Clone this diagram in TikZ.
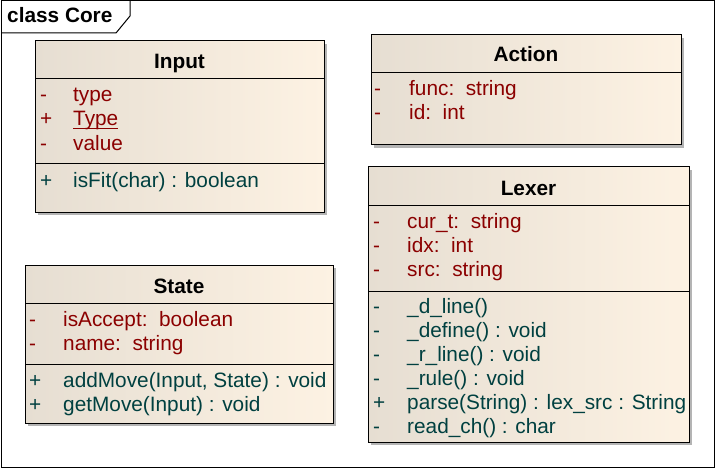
\documentclass[tikz,border=0pt]{standalone}
\usepackage{fontspec}
\setmainfont{Liberation Sans}
\usepackage{xcolor}
\definecolor{clFillL}{HTML}{E6DED2}
\definecolor{clFillR}{HTML}{FDF2E3}
\definecolor{clAttr}{HTML}{8B0000}
\definecolor{clOper}{HTML}{004040}
\definecolor{clShadow}{HTML}{B4B4B4}
\usetikzlibrary{positioning}
\newcommand{\umlfont}{\fontsize{20.8}{24}\selectfont}
\tikzset{
  classbox/.style={draw=black, line width=1pt, left color=clFillL, right color=clFillR},
  classshadow/.style={fill=clShadow, draw=none},
  compline/.style={draw=black, line width=1pt},
  frameline/.style={draw=black, line width=1pt},
  classtitle/.style={anchor=base, font=\umlfont\bfseries, inner sep=0pt, text=black},
  attr/.style={anchor=base west, font=\umlfont, inner sep=0pt, text=clAttr},
  oper/.style={anchor=base west, font=\umlfont, inner sep=0pt, text=clOper},
  staticline/.style={draw=clAttr, line width=1pt},
}

\begin{document}
\begin{tikzpicture}[x=1pt, y=-1pt]
  \useasboundingbox (0,0) rectangle (715,468);
  % frame
  \fill[white] (0,0) rectangle (715,468);
  \draw[frameline] (1,1) rectangle (714,467);
  \draw[frameline] (1,33) -- (116,33) -- (130,16) -- (130,1);
  \node[classtitle, anchor=base west] (frameTitle) at (7,23) {class Core};

  % Input
  \fill[classshadow] (38,44) rectangle (327,215);
  \draw[classbox] (35,41) rectangle (324,212);
  \draw[compline] (35,79) -- (324,79);
  \draw[compline] (35,164) -- (324,164);
  \node[classtitle] (inputTitle) at (179.5,69) {Input};
  \node[attr] (inputS1) at (40,102) {-};
  \node[attr] (inputA1) at (73,102) {type};
  \node[attr] (inputS2) at (40,126) {+};
  \node[attr] (inputA2) at (73,126) {Type};
  \draw[staticline] ([yshift=-2.5pt]inputA2.base west) -- ([yshift=-2.5pt]inputA2.base east);
  \node[attr] (inputS3) at (40,150) {-};
  \node[attr] (inputA3) at (73,150) {value};
  \node[oper] (inputS4) at (40,187) {+};
  \node[oper] (inputO1) at (73,187) {isFit(char) : boolean};

  % Action
  \fill[classshadow] (374,38) rectangle (684,148);
  \draw[classbox] (371,35) rectangle (681,145);
  \draw[compline] (371,73) -- (681,73);
  \node[classtitle] (actionTitle) at (526,62) {Action};
  \node[attr] (actionS1) at (374,96) {-};
  \node[attr] (actionA1) at (409,96) {func:\ \ string};
  \node[attr] (actionS2) at (374,120) {-};
  \node[attr] (actionA2) at (409,120) {id:\ \ int};

  % Lexer
  \fill[classshadow] (371,170) rectangle (692,445);
  \draw[classbox] (368,167) rectangle (689,442);
  \draw[compline] (368,205) -- (689,205);
  \draw[compline] (368,291) -- (689,291);
  \node[classtitle] (lexerTitle) at (528.5,195) {Lexer};
  \node[attr] (lexerS1) at (373,228) {-};
  \node[attr] (lexerA1) at (407,228) {cur\_t:\ \ string};
  \node[attr] (lexerS2) at (373,252) {-};
  \node[attr] (lexerA2) at (407,252) {idx:\ \ int};
  \node[attr] (lexerS3) at (373,276) {-};
  \node[attr] (lexerA3) at (407,276) {src:\ \ string};
  \node[oper] (lexerS4) at (373,313) {-};
  \node[oper] (lexerO1) at (407,313) {\_d\_line()};
  \node[oper] (lexerS5) at (373,337) {-};
  \node[oper] (lexerO2) at (407,337) {\_define() : void};
  \node[oper] (lexerS6) at (373,361) {-};
  \node[oper] (lexerO3) at (407,361) {\_r\_line() : void};
  \node[oper] (lexerS7) at (373,385) {-};
  \node[oper] (lexerO4) at (407,385) {\_rule() : void};
  \node[oper] (lexerS8) at (373,409) {+};
  \node[oper] (lexerO5) at (407,409) {parse(String) : lex\_src : String};
  \node[oper] (lexerS9) at (373,433) {-};
  \node[oper] (lexerO6) at (407,433) {read\_ch() : char};

  % State
  \fill[classshadow] (28,268) rectangle (336,426);
  \draw[classbox] (25,265) rectangle (333,423);
  \draw[compline] (25,303) -- (333,303);
  \draw[compline] (25,364) -- (333,364);
  \node[classtitle] (stateTitle) at (179,293) {State};
  \node[attr] (stateS1) at (29,326) {-};
  \node[attr] (stateA1) at (63,326) {isAccept:\ \ boolean};
  \node[attr] (stateS2) at (29,350) {-};
  \node[attr] (stateA2) at (63,350) {name:\ \ string};
  \node[oper] (stateS3) at (29,387) {+};
  \node[oper] (stateO1) at (63,387) {addMove(Input, State) : void};
  \node[oper] (stateS4) at (29,411) {+};
  \node[oper] (stateO2) at (63,411) {getMove(Input) : void};
\end{tikzpicture}
\end{document}
